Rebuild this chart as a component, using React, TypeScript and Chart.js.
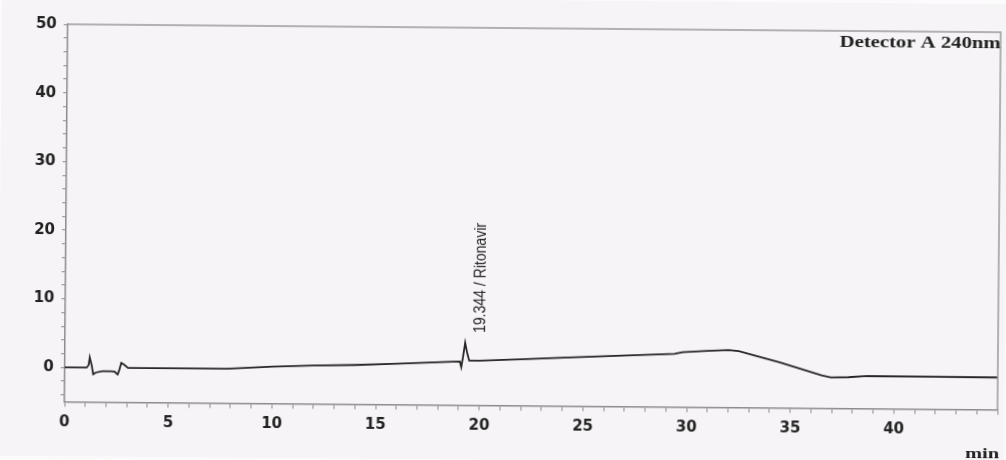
import React, { useEffect, useRef } from "react";
import { Chart, registerables } from "chart.js";

Chart.register(...registerables);

// Retention time (min) and detector signal (mAU)
const retentionTimes = [
  0, 1.05, 1.15, 1.2, 1.3, 1.37, 1.5, 1.8, 2.2, 2.4, 2.55, 2.62, 2.72, 2.85, 3.05,
  5, 7.8, 10, 12, 14, 16, 18.7, 19.05, 19.12, 19.2, 19.3, 19.4, 19.5, 20, 22, 23.8,
  26, 27.7, 29.4, 29.8, 31, 32, 32.5, 33.5, 34.5, 35.5, 36.5, 36.95, 37.8, 38.7, 45,
];
const signal = [
  0, 0, 0.4, 1.5, 0.3, -0.95, -0.7, -0.5, -0.5, -0.55, -0.95, -0.4, 0.73, 0.5, 0,
  0, 0, 0.38, 0.6, 0.72, 0.95, 1.32, 1.35, 0.55, 2.0, 4.1, 2.6, 1.5, 1.5, 1.75, 2.0,
  2.3, 2.53, 2.75, 3.0, 3.2, 3.36, 3.2, 2.4, 1.6, 0.7, -0.2, -0.5, -0.45, -0.25, -0.3,
];

const xTickValues = [
  0, 1, 2, 3, 4, 5, 6, 7, 8, 9, 10, 11, 12, 13, 14, 15, 16, 17, 18, 19, 20, 21, 22,
  23, 24, 25, 26, 27, 28, 29, 30, 31, 32, 33, 34, 35, 36, 37, 38, 39, 40, 41, 42, 43, 44, 45,
];
const xLabelValues = [0, 5, 10, 15, 20, 25, 30, 35, 40];
const yTickValues = [-4, -2, 0, 2, 4, 6, 8, 10, 12, 14, 16, 18, 20, 22, 24, 26, 28, 30, 32, 34, 36, 38, 40, 42, 44, 46, 48, 50];
const yLabelValues = [0, 10, 20, 30, 40, 50];

const peakTime = 19.344;
const peakValue = 4.1;
const peakLabel = "19.344 / Ritonavir";
const detectorLabel = "Detector A 240nm";
const xUnitLabel = "min";

const BG = "#f6f4f6";
const AXIS = "#8c8c8c";
const INK = "#222222";

const decorPlugin = {
  id: "decor",
  beforeDraw(chart: any) {
    const { ctx, width, height } = chart;
    ctx.save();
    ctx.fillStyle = BG;
    ctx.fillRect(0, 0, width, height);
    ctx.restore();
  },
  afterDraw(chart: any) {
    const { ctx, chartArea, scales } = chart;
    const { left, right, top, bottom } = chartArea;
    ctx.save();
    // frame (top and right)
    ctx.strokeStyle = "#9a9a9a";
    ctx.lineWidth = 1.5;
    ctx.beginPath();
    ctx.moveTo(left, top);
    ctx.lineTo(right, top);
    ctx.lineTo(right, bottom);
    ctx.stroke();

    // detector label
    ctx.fillStyle = INK;
    ctx.font = "bold 16px 'Liberation Serif'";
    ctx.textBaseline = "alphabetic";
    ctx.textAlign = "left";
    let w = ctx.measureText(detectorLabel).width;
    let target = 161;
    ctx.save();
    ctx.translate(right - target, top + 16);
    ctx.scale(target / w, 1);
    ctx.fillText(detectorLabel, 0, 0);
    ctx.restore();

    // unit label
    ctx.font = "bold 14px 'Liberation Serif'";
    w = ctx.measureText(xUnitLabel).width;
    target = 34;
    ctx.save();
    ctx.translate(right + 2 - target, bottom + 48);
    ctx.scale(target / w, 1);
    ctx.fillText(xUnitLabel, 0, 0);
    ctx.restore();

    // peak label
    const px = scales.x.getPixelForValue(peakTime) + 15;
    const py = scales.y.getPixelForValue(peakValue) - 10;
    ctx.font = "16px 'Liberation Sans'";
    w = ctx.measureText(peakLabel).width;
    target = 110;
    ctx.save();
    ctx.translate(px, py);
    ctx.rotate(-Math.PI / 2);
    ctx.scale(target / w, 1);
    ctx.textBaseline = "middle";
    ctx.fillText(peakLabel, 0, 0);
    ctx.restore();

    ctx.restore();
  },
};

export default function App() {
  const ref = useRef<HTMLCanvasElement | null>(null);

  useEffect(() => {
    if (!ref.current) return;
    const points = retentionTimes.map((t, i) => ({ x: t, y: signal[i] }));
    const chart = new Chart(ref.current, {
      type: "scatter",
      data: {
        datasets: [
          {
            data: points,
            showLine: true,
            borderColor: "#262626",
            borderWidth: 1.8,
            pointRadius: 0,
            tension: 0,
          },
        ],
      },
      options: {
        animation: false,
        responsive: false,
        maintainAspectRatio: false,
        layout: { padding: { top: 28, right: 5, left: 0, bottom: 0 } },
        plugins: { legend: { display: false }, tooltip: { enabled: false } },
        scales: {
          x: {
            type: "linear",
            min: 0,
            max: 45,
            afterBuildTicks: (s: any) => {
              s.ticks = xTickValues.map((v) => ({ value: v }));
            },
            afterFit: (s: any) => {
              s.height = 54.5;
            },
            ticks: {
              autoSkip: false,
              maxRotation: 0,
              padding: 7,
              color: INK,
              font: { family: "'DejaVu Sans'", size: 15, weight: "bold" },
              callback: (v: any) => (xLabelValues.includes(Number(v)) ? String(v) : ""),
            },
            grid: { drawOnChartArea: false, drawTicks: true, tickLength: 5, color: AXIS },
            border: { color: AXIS, width: 1.5 },
          },
          y: {
            type: "linear",
            min: -5,
            max: 50,
            afterBuildTicks: (s: any) => {
              s.ticks = yTickValues.map((v) => ({ value: v }));
            },
            afterFit: (s: any) => {
              s.width = 66;
            },
            ticks: {
              autoSkip: false,
              padding: 7,
              color: INK,
              font: { family: "'DejaVu Sans'", size: 15, weight: "bold" },
              callback: (v: any) => (yLabelValues.includes(Number(v)) ? String(v) : ""),
            },
            grid: { drawOnChartArea: false, drawTicks: true, tickLength: 4, color: AXIS },
            border: { color: AXIS, width: 1.5 },
          },
        },
      },
      plugins: [decorPlugin],
    });
    return () => chart.destroy();
  }, []);

  return (
    <div style={{ position: "fixed", left: 0, top: 0, width: 1006, height: 460, background: "#fbfbfb", overflow: "hidden" }}>
      <canvas
        ref={ref}
        width={1006}
        height={460}
        style={{ width: 1006, height: 460, display: "block", transform: "rotate(0.49deg)", transformOrigin: "50% 50%" }}
      />
    </div>
  );
}
